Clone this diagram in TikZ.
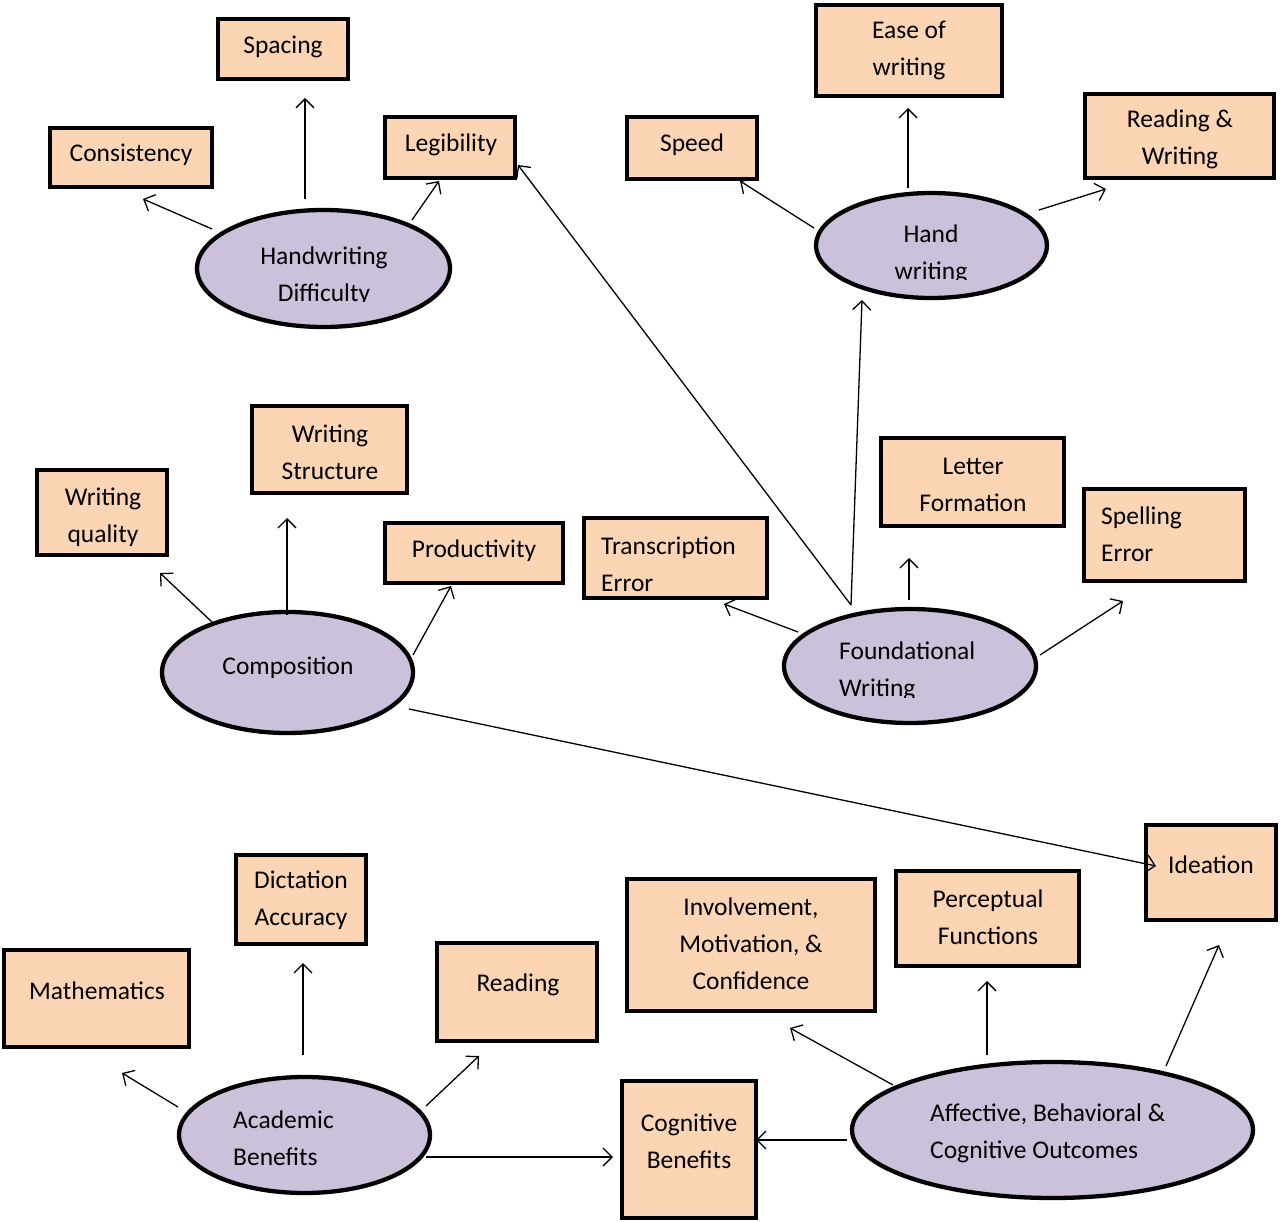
\documentclass[tikz,border=0pt]{standalone}
\usepackage{fontspec}
\setmainfont{Carlito}
\usetikzlibrary{shapes.geometric,arrows.meta}
\definecolor{boxc}{HTML}{FCD5B5}
\definecolor{ovc}{HTML}{CCC1DA}
\begin{document}
\begin{tikzpicture}[x=1pt,y=-1pt,
 box/.style={draw=black,line width=4.3pt,fill=boxc,inner sep=0pt,rectangle},
 oval/.style={draw=black,line width=4.3pt,fill=ovc,ellipse,inner sep=0pt},
 txt/.style={font=\fontsize{25.5}{37}\selectfont,align=center,inner sep=0pt},
 ltxt/.style={font=\fontsize{25.5}{37}\selectfont,align=left,inner sep=0pt,anchor=west},
 arr/.style={line width=1.3pt,-{Straight Barb[length=9pt,width=18pt,line width=1.3pt]}}]
\useasboundingbox (0,0) rectangle (1280,1222);
\fill[white] (0,0) rectangle (1280,1222);

% boxes
\node[box,minimum width=130pt,minimum height=60pt] (spacing) at (283,49) {};
\node[txt] at (283,47) {Spacing};
\node[box,minimum width=162pt,minimum height=59pt] (consist) at (131,157.5) {};
\node[txt] at (131,155) {Consistency};
\node[box,minimum width=130pt,minimum height=61pt] (legib) at (450,147.5) {};
\node[txt] at (451,145) {Legibility};
\node[box,minimum width=186pt,minimum height=91pt] (ease) at (909,50.5) {};
\node[txt] at (909,50) {Ease of\\writing};
\node[box,minimum width=130pt,minimum height=62pt] (speed) at (692,148) {};
\node[txt] at (692,145) {Speed};
\node[box,minimum width=189pt,minimum height=84pt] (rw) at (1179.5,136) {};
\node[txt] at (1180,139.5) {Reading \&\\Writing};
\node[box,minimum width=155pt,minimum height=87pt] (wstruct) at (329.5,449.5) {};
\node[txt] at (330,452.5) {Writing\\Structure};
\node[box,minimum width=130pt,minimum height=85pt] (wqual) at (102,512.5) {};
\node[txt] at (103,517) {Writing\\quality};
\node[box,minimum width=178pt,minimum height=60pt] (prod) at (474,553) {};
\node[txt] at (474,551) {Productivity};
\node[box,minimum width=183pt,minimum height=80pt] (transc) at (675.5,558) {};
\node[ltxt] at (601,564.5) {Transcription\\Error};
\node[box,minimum width=183pt,minimum height=88pt] (letter) at (972.5,482) {};
\node[txt] at (973,484.5) {Letter\\Formation};
\node[box,minimum width=161pt,minimum height=92pt] (spell) at (1164.5,535) {};
\node[ltxt] at (1101,534.5) {Spelling\\Error};
\node[box,minimum width=130pt,minimum height=95pt] (ideation) at (1211,872.5) {};
\node[txt] at (1211,865) {Ideation};
\node[box,minimum width=130pt,minimum height=89pt] (dict) at (301,899.5) {};
\node[txt] at (301,900.5) {Dictation\\Accuracy};
\node[box,minimum width=185pt,minimum height=97pt] (math) at (96.5,998.5) {};
\node[txt] at (97,991) {Mathematics};
\node[box,minimum width=160pt,minimum height=98pt] (reading) at (517,992) {};
\node[txt] at (518,985) {Reading};
\node[box,minimum width=248pt,minimum height=132pt] (involve) at (751,945) {};
\node[txt] at (751,944) {Involvement,\\Motivation, \&\\Confidence};
\node[box,minimum width=183pt,minimum height=95pt] (percept) at (987.5,918.5) {};
\node[txt] at (988,917.5) {Perceptual\\Functions};
\node[box,minimum width=134pt,minimum height=137pt] (cog) at (689,1149.5) {};
\node[txt] at (689,1141.5) {Cognitive\\Benefits};

% ellipses
\node[oval,minimum width=253pt,minimum height=117pt] (hd) at (323.5,268.5) {};
\begin{scope}\clip (195,200) rectangle (452,302);
\node[txt] at (324,276) {Handwriting\\Difficulty};
\end{scope}
\node[oval,minimum width=231pt,minimum height=105pt] (hw) at (931.5,245.5) {};
\begin{scope}\clip (814,190) rectangle (1049,280);
\node[txt] at (931,254.5) {Hand\\writing};
\end{scope}
\node[oval,minimum width=251pt,minimum height=121pt] (comp) at (287.5,672.5) {};
\node[txt] at (288,668) {Composition};
\node[oval,minimum width=252pt,minimum height=114pt] (fw) at (910,666) {};
\begin{scope}\clip (782,600) rectangle (1038,697);
\node[ltxt] at (839,671.5) {Foundational\\Writing};
\end{scope}
\node[oval,minimum width=251pt,minimum height=116pt] (ab) at (304.5,1135) {};
\node[ltxt] at (233,1138.5) {Academic\\Benefits};
\node[oval,minimum width=401pt,minimum height=136pt] (abc) at (1052.5,1130) {};
\node[ltxt] at (930,1133.5) {Affective, Behavioral \&\\Cognitive Outcomes};

% connectors
\draw[arr] ([shift={(-111.5,-39.5)}]hd.center) -- ([shift={(12,41.5)}]consist.center);
\draw[arr] ([shift={(-18.5,-69.5)}]hd.center) -- ([shift={(22,49)}]spacing.center);
\draw[arr] ([shift={(88.5,-48.5)}]hd.center) -- ([shift={(-11,33.5)}]legib.center);

\draw[arr] ([shift={(-59,-61)}]fw.center) -- ([shift={(68,17.5)}]legib.center);
\draw[arr] ([shift={(-59,-61)}]fw.center) -- ([shift={(-69.5,54.5)}]hw.center);
\draw[arr] ([shift={(-112,-34)}]fw.center) -- ([shift={(48.5,46)}]transc.center);
\draw[arr] ([shift={(-1,-66)}]fw.center) -- ([shift={(-63.5,76)}]letter.center);
\draw[arr] ([shift={(130,-11)}]fw.center) -- ([shift={(-41.5,66)}]spell.center);

\draw[arr] ([shift={(-117.5,-17.5)}]hw.center) -- ([shift={(48,33)}]speed.center);
\draw[arr] ([shift={(-23.5,-57.5)}]hw.center) -- ([shift={(-1,57.5)}]ease.center);
\draw[arr] ([shift={(107.5,-35.5)}]hw.center) -- ([shift={(-73.5,53)}]rw.center);

\draw[arr] ([shift={(-75.5,-50.5)}]comp.center) -- ([shift={(58,60.5)}]wqual.center);
\draw[arr] ([shift={(-0.5,-57.5)}]comp.center) -- ([shift={(-42.5,68.5)}]wstruct.center);
\draw[arr] ([shift={(125.5,-17.5)}]comp.center) -- ([shift={(-23,33)}]prod.center);
\draw[arr] ([shift={(121.5,36.5)}]comp.center) -- ([shift={(-55,-6.5)}]ideation.center);

\draw[arr] ([shift={(-126.5,-28)}]ab.center) -- ([shift={(25.5,74.5)}]math.center);
\draw[arr] ([shift={(-1.5,-80)}]ab.center) -- ([shift={(2,63.5)}]dict.center);
\draw[arr] ([shift={(121.5,-29)}]ab.center) -- ([shift={(-38,64)}]reading.center);
\draw[arr] ([shift={(121.5,22)}]ab.center) -- ([shift={(-76,7.5)}]cog.center);

\draw[arr] ([shift={(-205.5,10)}]abc.center) -- ([shift={(67,-9.5)}]cog.center);
\draw[arr] ([shift={(-159.5,-45)}]abc.center) -- ([shift={(39,83)}]involve.center);
\draw[arr] ([shift={(-65.5,-75)}]abc.center) -- ([shift={(-0.5,62.5)}]percept.center);
\draw[arr] ([shift={(113.5,-64)}]abc.center) -- ([shift={(8,72.5)}]ideation.center);
\end{tikzpicture}
\end{document}
